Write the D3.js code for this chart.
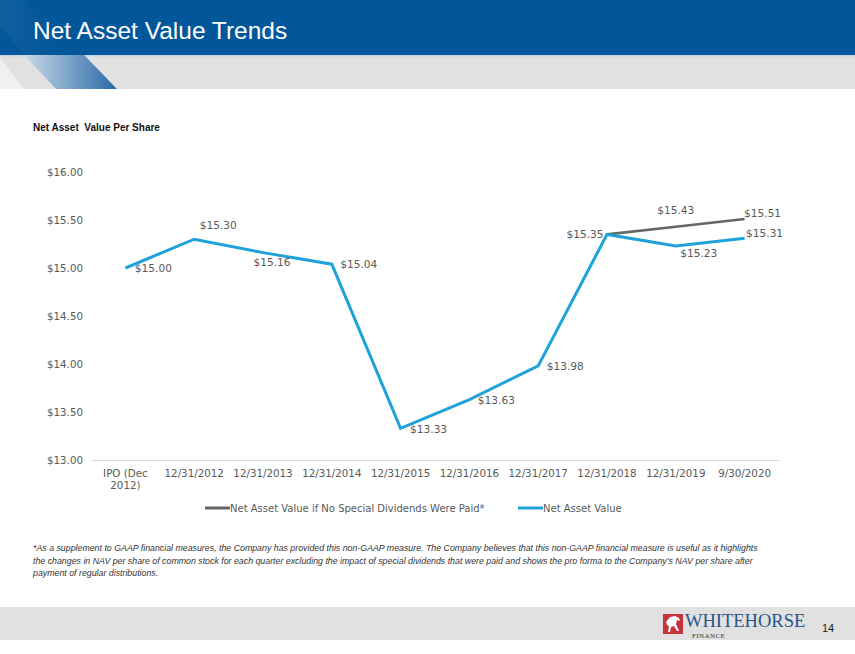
<!DOCTYPE html>
<html>
<head>
<meta charset="utf-8">
<script src="https://cdn.jsdelivr.net/npm/d3@7"></script>
<style>
	body { margin: 0; background: #fff; }
	svg { display: block; }
</style>
</head>
<body>
<svg class="chart"></svg>
<script>
/* Net asset value slide, drawn with d3 */

// categories and series
var categories = ["IPO (Dec 2012)", "12/31/2012", "12/31/2013", "12/31/2014", "12/31/2015",
	"12/31/2016", "12/31/2017", "12/31/2018", "12/31/2019", "9/30/2020"];
var navValues = [15.00, 15.30, 15.16, 15.04, 13.33, 13.63, 13.98, 15.35, 15.23, 15.31];
var noSpecialValues = [null, null, null, null, null, null, null, 15.35, 15.43, 15.51];
var yTicks = [13.00, 13.50, 14.00, 14.50, 15.00, 15.50, 16.00];
var seriesNames = ["Net Asset Value if No Special Dividends Were Paid*", "Net Asset Value"];

// where each data label sits relative to its point (dx, dy)
var navLabelOffset = [[28, 0], [24, -14], [9, 10], [27, 0], [28, 1], [27, 1], [27, 0], [-22, 0], [23, 7], [20, -5]];
var noSpecialLabelOffset = [null, null, null, null, null, null, null, null, [0, -16], [18, -6]];

var footnote = [
	"*As a supplement to GAAP financial measures, the Company has provided this non-GAAP measure. The Company believes that this non-GAAP financial measure is useful as it highlights",
	"the changes in NAV per share of common stock for each quarter excluding the impact of special dividends that were paid and shows the pro forma to the Company\u2019s NAV per share after",
	"payment of regular distributions."
];

function drawSlide() {
	var W = 855, H = 654;
	var svg = d3.select(".chart")
		.attr("width", W)
		.attr("height", H);

	var defs = svg.append("defs");
	var grad = defs.append("linearGradient")
		.attr("id", "stripe")
		.attr("x1", "0%").attr("y1", "0%")
		.attr("x2", "100%").attr("y2", "0%");
	grad.append("stop").attr("offset", "0%").attr("stop-color", "#c9d9e8");
	grad.append("stop").attr("offset", "100%").attr("stop-color", "#2a69a6");

	var grad2 = defs.append("linearGradient")
		.attr("id", "stripeTop")
		.attr("x1", "0%").attr("y1", "0%")
		.attr("x2", "100%").attr("y2", "0%");
	grad2.append("stop").attr("offset", "0%").attr("stop-color", "#2b6aa6").attr("stop-opacity", 0.9);
	grad2.append("stop").attr("offset", "100%").attr("stop-color", "#02579a").attr("stop-opacity", 0);

	// header
	svg.append("rect").attr("x", 0).attr("y", 0).attr("width", W).attr("height", 55).attr("fill", "#02579a");
	svg.append("path").attr("d", "M0,0 L22,0 L70,55 L25,55 L0,25 Z").attr("fill", "url(#stripeTop)").attr("opacity", 0.5);
	svg.append("rect").attr("x", 0).attr("y", 55).attr("width", W).attr("height", 34).attr("fill", "#e1e1e1");
	svg.append("rect").attr("x", 0).attr("y", 55).attr("width", W).attr("height", 1.5).attr("fill", "#c6d7e8");
	svg.append("path").attr("d", "M0,58 L24,89 L0,89 Z").attr("fill", "#f0f0f0");
	svg.append("path").attr("d", "M24,55 L84,55 L117,89 L56,89 Z").attr("fill", "url(#stripe)");

	svg.append("text")
		.attr("x", 33).attr("y", 39)
		.attr("fill", "#fff")
		.style("font-family", "'Liberation Sans', Arial, sans-serif")
		.style("font-size", "24.5px")
		.text("Net Asset Value Trends");

	svg.append("text")
		.attr("x", 33).attr("y", 131)
		.attr("fill", "#111")
		.style("font-family", "'Liberation Sans', Arial, sans-serif")
		.style("font-size", "10px")
		.style("font-weight", "bold")
		.attr("xml:space", "preserve")
		.text("Net Asset  Value Per Share");

	// chart area
	var x = d3.scaleBand()
		.domain(categories)
		.range([91, 779])
		.padding(0);
	var y = d3.scaleLinear()
		.domain([13, 16])
		.range([460, 172]);
	var cx = function(i) { return x(categories[i]) + x.bandwidth() / 2; };

	var chart = svg.append("g").style("font-family", "'DejaVu Sans', Verdana, sans-serif");

	var yAxis = d3.axisLeft(y)
		.tickValues(yTicks)
		.tickSize(0)
		.tickPadding(0)
		.tickFormat(function(d) { return "$" + d3.format(".2f")(d); });
	chart.append("g")
		.attr("class", "y axis")
		.attr("transform", "translate(83,0)")
		.call(yAxis)
		.call(function(g) { g.select(".domain").remove(); })
		.selectAll("text")
		.attr("fill", "#595959")
		.style("font-size", "10.3px")
		.style("font-family", "'DejaVu Sans', Verdana, sans-serif");

	var xAxis = d3.axisBottom(x).tickSize(0).tickPadding(0);
	var xg = chart.append("g")
		.attr("class", "x axis")
		.attr("transform", "translate(0,460)")
		.call(xAxis);
	xg.select(".domain").attr("stroke", "#d9d9d9").attr("stroke-width", 1.2);
	xg.selectAll("text").remove();
	xg.selectAll(".tick").each(function(d) {
		var t = d3.select(this).append("text")
			.attr("fill", "#595959")
			.attr("text-anchor", "middle")
			.style("font-size", "10.3px")
			.style("font-family", "'DejaVu Sans', Verdana, sans-serif");
		var parts = d.indexOf("(") >= 0 ? ["IPO (Dec", "2012)"] : [d];
		parts.forEach(function(p, k) {
			t.append("tspan").attr("x", 0).attr("y", 17 + k * 12).text(p);
		});
	});

	var line = d3.line()
		.defined(function(d) { return d != null; })
		.x(function(d, i) { return cx(i); })
		.y(function(d) { return y(d); });

	chart.append("path")
		.datum(noSpecialValues)
		.attr("fill", "none")
		.attr("stroke", "#666666")
		.attr("stroke-width", 2.6)
		.attr("stroke-linejoin", "round")
		.attr("d", line);

	chart.append("path")
		.datum(navValues)
		.attr("fill", "none")
		.attr("stroke", "#1ea2d9")
		.attr("stroke-width", 3)
		.attr("stroke-linejoin", "miter")
		.attr("d", line);

	function addLabels(values, offsets) {
		values.forEach(function(v, i) {
			if (v == null || offsets[i] == null) return;
			chart.append("text")
				.attr("x", cx(i) + offsets[i][0])
				.attr("y", y(v) + offsets[i][1])
				.attr("dy", "0.35em")
				.attr("text-anchor", "middle")
				.attr("fill", "#595959")
				.style("font-size", "10.6px")
				.text("$" + d3.format(".2f")(v));
		});
	}
	addLabels(navValues, navLabelOffset);
	addLabels(noSpecialValues, noSpecialLabelOffset);

	// legend
	var legend = chart.append("g").attr("class", "legend");
	var legendX = [205, 518];
	var legendColor = ["#666666", "#1ea2d9"];
	seriesNames.forEach(function(name, k) {
		legend.append("line")
			.attr("x1", legendX[k]).attr("x2", legendX[k] + 25)
			.attr("y1", 508).attr("y2", 508)
			.attr("stroke", legendColor[k])
			.attr("stroke-width", 3);
		legend.append("text")
			.attr("x", legendX[k] + 25).attr("y", 508)
			.attr("dy", "0.35em")
			.attr("fill", "#595959")
			.style("font-size", "10px")
			.text(name);
	});

	// footnote
	svg.append("g").selectAll("text")
		.data(footnote)
	  .enter().append("text")
		.attr("x", 33)
		.attr("y", function(d, i) { return 551 + i * 12.5; })
		.attr("fill", "#333")
		.style("font-family", "'Liberation Sans', Arial, sans-serif")
		.style("font-size", "8.8px")
		.style("font-style", "italic")
		.text(function(d) { return d; });

	// footer
	svg.append("rect").attr("x", 0).attr("y", 607).attr("width", W).attr("height", 33).attr("fill", "#e1e1e1");
	svg.append("rect").attr("x", 663).attr("y", 614).attr("width", 20).attr("height", 20).attr("fill", "#c8323c");
	svg.append("path")
		.attr("d", "M666,622 L670,617 L675,616 L679,618 L680,621 L677,620 L676,624 L679,631 L677,631 L674,626 L671,627 L670,632 L668,632 L669,626 L667,625 Z")
		.attr("fill", "#fff");
	svg.append("text")
		.attr("x", 685).attr("y", 626.5)
		.attr("fill", "#24578a")
		.style("font-family", "'Liberation Serif', 'Times New Roman', serif")
		.style("font-size", "18.5px")
		.text("WHITEHORSE");
	svg.append("text")
		.attr("x", 692).attr("y", 638)
		.attr("fill", "#333")
		.style("font-family", "'Liberation Serif', 'Times New Roman', serif")
		.style("font-size", "7px")
		.style("letter-spacing", "0.4px")
		.text("FINANCE");
	svg.append("text")
		.attr("x", 822).attr("y", 632)
		.attr("fill", "#222")
		.style("font-family", "'Liberation Sans', Arial, sans-serif")
		.style("font-size", "11px")
		.text("14");
}

drawSlide();
</script>
</body>
</html>
